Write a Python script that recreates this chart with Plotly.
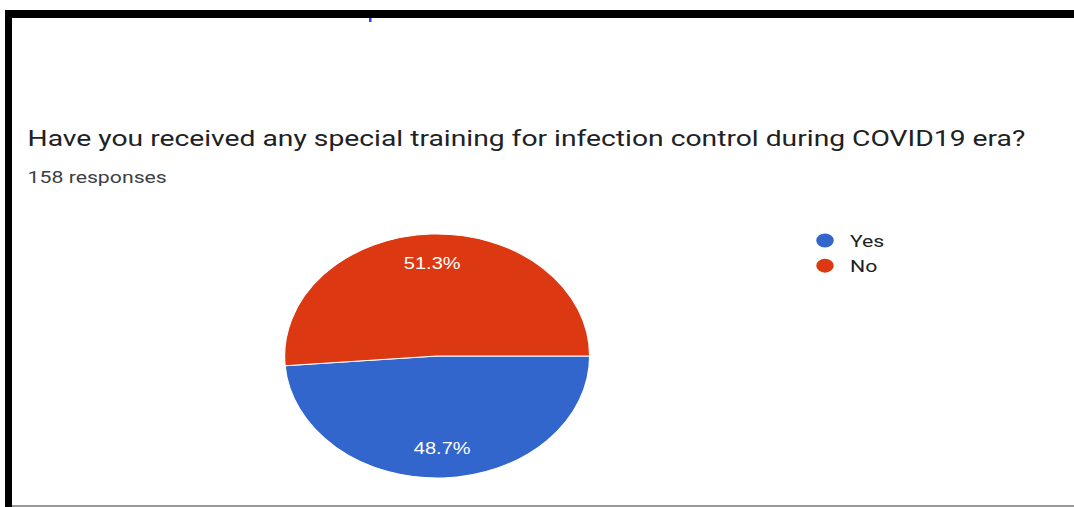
import math
import plotly.graph_objects as go

# survey answers (158 responses)
labels = ["Yes", "No"]
counts = [77, 81]
colors = ["#3366CC", "#DC3912"]
question = "Have you received any special training for infection control during COVID19 era?"
responses_note = "158 responses"

# the reference screenshot is stretched horizontally, so draw narrow and scale
W, H = 859, 507
STRETCH = 1074 / W
LABEL_R = 0.76  # where google charts puts the percent labels (fraction of radius)


def px_y(y):
    """pixel from top -> paper y"""
    return 1 - y / H


def px_x(x):
    """stretched pixel from left -> paper x"""
    return x / STRETCH / W


pie_x = [0.2, 0.614]
pie_y = [px_y(478), px_y(234)]

fig = go.Figure()

fig.add_trace(go.Pie(
    labels=labels,
    values=counts,
    marker=dict(colors=colors, line=dict(color="white", width=1)),
    sort=False,
    direction="clockwise",
    rotation=90,
    textinfo="none",
    domain=dict(x=pie_x, y=pie_y),
    showlegend=False,
    hoverinfo="label+value+percent",
))

# percent labels, placed on each slice's bisector like google forms does
total = sum(counts)
cx = sum(pie_x) / 2
cy = sum(pie_y) / 2
r_paper_y = (pie_y[1] - pie_y[0]) / 2
r_px = r_paper_y * H
start = 90.0  # degrees clockwise from 12 o'clock
for c in counts:
    sweep = 360.0 * c / total
    mid = math.radians(start + sweep / 2)
    fig.add_annotation(
        text=f"{100 * c / total:.1f}%", xref="paper", yref="paper",
        x=cx + LABEL_R * r_px * math.sin(mid) / W,
        y=cy + LABEL_R * r_paper_y * math.cos(mid),
        xanchor="center", yanchor="middle", showarrow=False,
        font=dict(family="Arial", size=16, color="white"),
    )
    start += sweep

# round legend markers like the Google Forms chart
for lab, col in zip(labels, colors):
    fig.add_trace(go.Scatter(
        x=[None], y=[None], mode="markers", name=lab,
        marker=dict(color=col, size=14, symbol="circle"),
    ))

fig.add_annotation(
    text=question, xref="paper", yref="paper",
    x=px_x(25), y=px_y(138), xanchor="left", yanchor="middle",
    showarrow=False, font=dict(family="Roboto", size=22.6, color="#202124"),
)
fig.add_annotation(
    text=responses_note, xref="paper", yref="paper",
    x=px_x(25), y=px_y(177), xanchor="left", yanchor="middle",
    showarrow=False, font=dict(family="Roboto", size=17, color="#3c4043"),
)

# frame of the screenshot
fig.add_shape(type="rect", xref="paper", yref="paper",
              x0=px_x(5), x1=px_x(12), y0=0, y1=px_y(10),
              fillcolor="black", line_width=0)
fig.add_shape(type="rect", xref="paper", yref="paper",
              x0=px_x(5), x1=1, y0=px_y(18), y1=px_y(10),
              fillcolor="black", line_width=0)
fig.add_shape(type="line", xref="paper", yref="paper",
              x0=px_x(12), x1=1, y0=px_y(506), y1=px_y(506),
              line=dict(color="#333333", width=1))
fig.add_shape(type="rect", xref="paper", yref="paper",
              x0=px_x(369), x1=px_x(371.5), y0=px_y(22), y1=px_y(18),
              fillcolor="#3344ee", line_width=0)

fig.update_layout(
    width=W,
    height=H,
    margin=dict(l=0, r=0, t=0, b=0),
    paper_bgcolor="white",
    plot_bgcolor="white",
    xaxis=dict(visible=False),
    yaxis=dict(visible=False),
    showlegend=True,
    legend=dict(
        x=px_x(800), y=px_y(223), xanchor="left", yanchor="top",
        font=dict(family="Roboto", size=17, color="#202124"),
        bgcolor="rgba(0,0,0,0)",
    ),
)

post = (
    "document.body.style.margin='0';"
    "var gd=document.getElementById('{plot_id}');"
    "gd.style.transformOrigin='0 0';"
    "gd.style.transform='scaleX(%.5f)';" % STRETCH
)

fig.write_html("out.html", post_script=post, config={"displayModeBar": False})
